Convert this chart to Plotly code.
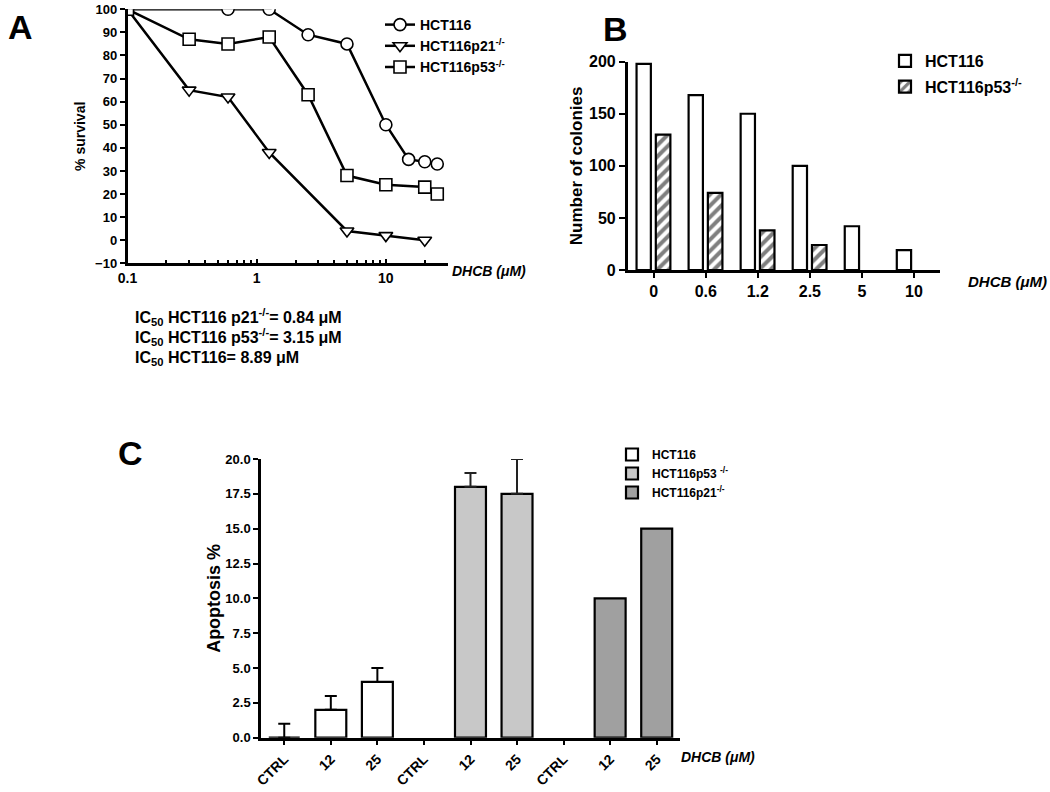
import math
import plotly.graph_objects as go

FONT = "Liberation Sans, Arial, Helvetica, sans-serif"

# ---------------- Panel A data (cell survival, % vs DHCB uM) ----------------
a_hct116_x = [0.1, 0.6, 1.25, 2.5, 5, 10, 15, 20, 25]
a_hct116_y = [100, 100, 100, 89, 85, 50, 35, 34, 33]
a_p21_x = [0.1, 0.3, 0.6, 1.25, 5, 10, 20]
a_p21_y = [100, 65, 62, 38, 4, 2, 0]
a_p53_x = [0.1, 0.3, 0.6, 1.25, 2.5, 5, 10, 20, 25]
a_p53_y = [100, 87, 85, 88, 63, 28, 24, 23, 20]
a_xticks = [0.1, 1, 10]
a_xticklabels = ["0.1", "1", "10"]
a_minor = [0.2, 0.3, 0.4, 0.5, 0.6, 0.7, 0.8, 0.9, 2, 3, 4, 5, 6, 7, 8, 9, 20, 30]

# ---------------- Panel B data (colonies) ----------------
b_conc = ["0", "0.6", "1.2", "2.5", "5", "10"]
b_hct116 = [198, 168, 150, 100, 42, 19]
b_p53 = [130, 74, 38, 24, None, None]

# ---------------- Panel C data (apoptosis %) ----------------
c_conditions = ["CTRL", "12", "25"]
c_hct116 = [0, 2, 4]
c_hct116_err = [1, 1, 1]
c_p53 = [None, 18, 17.5]
c_p53_err = [0, 1, 2.5]
c_p21 = [None, 10, 15]

W, H = 1050, 792


def px_x(p):
    return p / W


def px_y(p):
    return 1 - p / H


fig = go.Figure()

# ---- Panel A traces ----
mk = dict(color="white", size=12, line=dict(color="black", width=1.6))
for name, xs, ys, sym in [
    ("HCT116", a_hct116_x, a_hct116_y, "circle"),
    ("HCT116p21<sup>-/-</sup>", a_p21_x, a_p21_y, "triangle-down"),
    ("HCT116p53<sup>-/-</sup>", a_p53_x, a_p53_y, "square"),
]:
    fig.add_trace(go.Scatter(
        x=xs, y=ys, name=name, mode="lines+markers",
        line=dict(color="black", width=2.5),
        marker=dict(symbol=sym, **mk),
        xaxis="x", yaxis="y", legend="legend",
    ))

# ---- Panel B traces ----
fig.add_trace(go.Bar(
    x=b_conc, y=b_hct116, name="HCT116",
    marker=dict(color="white", line=dict(color="black", width=2.2)),
    width=0.275, offset=-0.33,
    xaxis="x2", yaxis="y2", legend="legend2", legendgroup="b1",
))
fig.add_trace(go.Bar(
    x=b_conc, y=b_p53, name="HCT116p53<sup>-/-</sup>",
    marker=dict(color="white", line=dict(color="black", width=2.2),
                pattern=dict(shape="/", fgcolor="black", bgcolor="white",
                             size=8, solidity=0.5)),
    width=0.28, offset=0.04,
    xaxis="x2", yaxis="y2", legend="legend2", legendgroup="b2",
))

# ---- Panel C traces ----
def c_pos(g):
    return [g * len(c_conditions) + i for i in range(len(c_conditions))]


fig.add_trace(go.Bar(
    x=c_pos(0), y=c_hct116, name="HCT116",
    marker=dict(color="white", line=dict(color="black", width=2.2)),
    width=0.665, offset=-0.333,
    error_y=dict(type="data", array=c_hct116_err, arrayminus=[0] * 3,
                 symmetric=False, color="black", thickness=2, width=6),
    xaxis="x3", yaxis="y3", legend="legend3",
))
fig.add_trace(go.Bar(
    x=c_pos(1), y=c_p53, name="HCT116p53 <sup>-/-</sup>",
    marker=dict(color="#c8c8c8", line=dict(color="black", width=2.2)),
    width=0.665, offset=-0.333,
    error_y=dict(type="data", array=c_p53_err, arrayminus=[0] * 3,
                 symmetric=False, color="#222222", thickness=2, width=6),
    xaxis="x3", yaxis="y3", legend="legend3",
))
fig.add_trace(go.Bar(
    x=c_pos(2), y=c_p21, name="HCT116p21<sup>-/-</sup>",
    marker=dict(color="#a0a0a0", line=dict(color="black", width=2.2)),
    width=0.665, offset=-0.333,
    xaxis="x3", yaxis="y3", legend="legend3",
))

axis_common = dict(showline=True, linecolor="black", linewidth=2.5,
                   showgrid=False, zeroline=False, tickcolor="black",
                   tickwidth=2, automargin=False)

fig.update_layout(
    width=W, height=H,
    margin=dict(l=0, r=0, t=0, b=0, pad=0, autoexpand=False),
    paper_bgcolor="white", plot_bgcolor="white",
    font=dict(family=FONT, color="black"),
    barmode="overlay",
    showlegend=True,
    # Panel A axes
    xaxis=dict(
        type="log", domain=[px_x(127.5), px_x(447.5)], anchor="y",
        range=[-1, math.log10(30)],
        tickmode="array", tickvals=a_xticks, ticktext=a_xticklabels,
        ticks="inside", ticklen=5,
        minor=dict(tickmode="array", tickvals=a_minor, ticks="inside",
                   ticklen=4, tickcolor="black", tickwidth=2, showgrid=False),
        tickfont=dict(size=14, weight="bold"),
        **axis_common,
    ),
    yaxis=dict(
        domain=[px_y(263.3), px_y(9.3)], anchor="x",
        range=[-10, 100], dtick=10, ticks="outside", ticklen=5,
        tickfont=dict(size=13, weight="bold"),
        title=dict(text="% survival", font=dict(size=14, weight="bold"),
                   standoff=7),
        **axis_common,
    ),
    # Panel B axes
    xaxis2=dict(
        type="category", domain=[px_x(627.7), px_x(940)], anchor="y2",
        range=[-0.5, 5.5], ticks="outside", ticklen=5,
        tickfont=dict(size=16, weight="bold"),
        **axis_common,
    ),
    yaxis2=dict(
        domain=[px_y(270), px_y(61.7)], anchor="x2",
        range=[0, 200], dtick=50, ticks="outside", ticklen=6,
        tickfont=dict(size=16, weight="bold"),
        title=dict(text="Number of colonies", font=dict(size=17, weight="bold"),
                   standoff=3),
        **axis_common,
    ),
    # Panel C axes
    xaxis3=dict(
        domain=[px_x(261), px_x(680)], anchor="y3",
        range=[-0.5, 8.5], tickmode="array",
        tickvals=c_pos(0) + c_pos(1) + c_pos(2),
        ticktext=c_conditions * 3, tickangle=-45,
        ticks="outside", ticklen=5,
        tickfont=dict(size=14, weight="bold"),
        **axis_common,
    ),
    yaxis3=dict(
        domain=[px_y(737.7), px_y(459)], anchor="x3",
        range=[0, 20], dtick=2.5, tickformat=".1f",
        ticks="outside", ticklen=5,
        tickfont=dict(size=13, weight="bold"),
        title=dict(text="Apoptosis %", font=dict(size=18, weight="bold"),
                   standoff=1),
        **axis_common,
    ),
    legend=dict(
        x=px_x(380), y=px_y(9), xanchor="left", yanchor="top",
        bgcolor="rgba(0,0,0,0)", font=dict(size=14, weight="bold"),
        tracegroupgap=0,
    ),
    legend2=dict(
        x=px_x(885), y=px_y(44), xanchor="left", yanchor="top",
        bgcolor="rgba(0,0,0,0)", font=dict(size=16, weight="bold"),
        traceorder="grouped", tracegroupgap=2,
    ),
    legend3=dict(
        x=px_x(612), y=px_y(440), xanchor="left", yanchor="top",
        bgcolor="rgba(0,0,0,0)", font=dict(size=12, weight="bold"),
    ),
)

ann = []
# panel letters
for letter, x, y in [("A", 20, 27), ("B", 615, 29), ("C", 130, 453)]:
    ann.append(dict(text=f"<b>{letter}</b>", x=px_x(x), y=px_y(y),
                    xref="paper", yref="paper", showarrow=False,
                    font=dict(size=34, family=FONT, color="black"),
                    xanchor="center", yanchor="middle"))
# x-axis labels
for x, y, size in [(450, 271, 14), (966, 281, 15), (679, 757, 14)]:
    ann.append(dict(text="<b><i>DHCB (μM)</i></b>", x=px_x(x), y=px_y(y),
                    xref="paper", yref="paper", showarrow=False,
                    font=dict(size=size, family=FONT, color="black"),
                    xanchor="left", yanchor="middle"))
# IC50 text
ic50_lines = [
    "IC<sub>50</sub> HCT116 p21<sup>-/-</sup>= 0.84 μM",
    "IC<sub>50</sub> HCT116 p53<sup>-/-</sup>= 3.15 μM",
    "IC<sub>50</sub> HCT116= 8.89 μM",
]
for line, y in zip(ic50_lines, [317, 337, 358]):
    ann.append(dict(text=f"<b>{line}</b>", x=px_x(133), y=px_y(y),
                    xref="paper", yref="paper", showarrow=False,
                    font=dict(size=16, family=FONT, color="black"),
                    xanchor="left", yanchor="middle"))
fig.update_layout(annotations=ann)

fig.write_html(
    "out.html",
    config={"displayModeBar": False},
    post_script="document.body.style.margin='0';document.body.style.padding='0';",
)
